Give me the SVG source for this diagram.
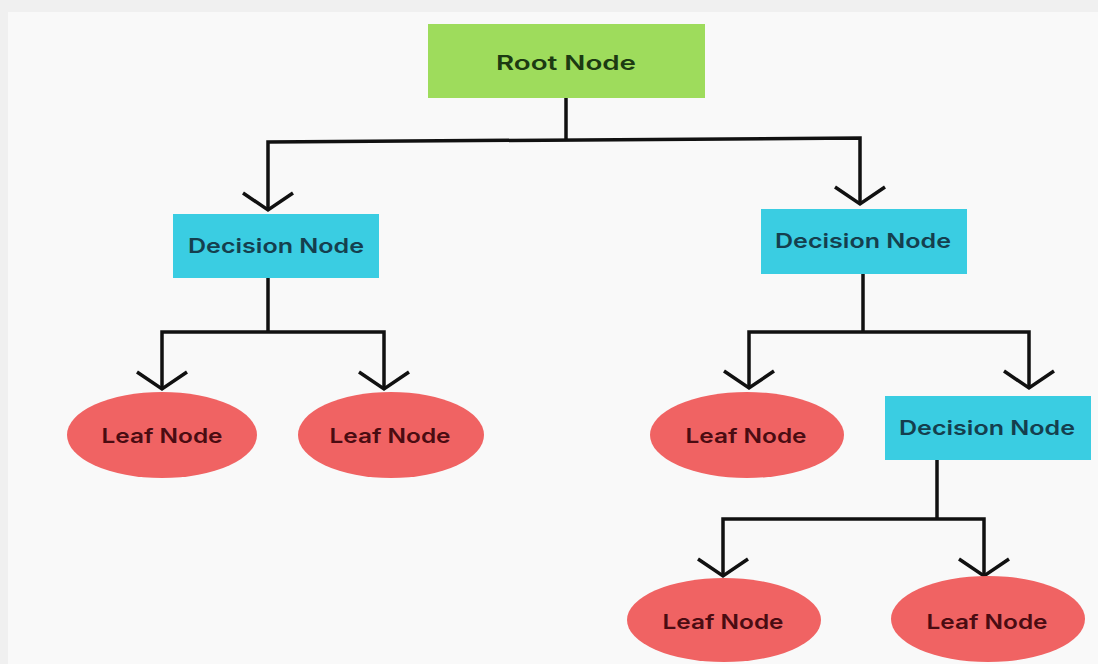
<svg xmlns="http://www.w3.org/2000/svg" width="1098" height="664" viewBox="0 0 1098 664">
  <defs>
    <style>
      .lbl { font-family: "Inter", "Noto Sans", "Liberation Sans", sans-serif; font-weight: 600; font-size: 20px; text-anchor: middle; }
      .root { fill: #9edc5c; }
      .dec { fill: #3acde2; }
      .leaf { fill: #f06363; }
      .root-t { fill: #1c3a12; }
      .dec-t { fill: #153f4e; }
      .leaf-t { fill: #4a0c12; }
      .wire { fill: none; stroke: #111; stroke-width: 3.5; stroke-linejoin: miter; }
      .head { fill: none; stroke: #111; stroke-width: 3.5; stroke-linejoin: miter; stroke-linecap: butt; }
    </style>
  </defs>
  <rect x="0" y="0" width="1098" height="664" fill="#f0f0f0"/>
  <rect x="8" y="12" width="1090" height="652" fill="#f9f9f9"/>

  <g id="connectors">
    <polyline class="wire" points="566,98 566,140"/>
    <polyline class="wire" points="268,208 268,142 860,138 860,202"/>
    <polyline class="head" points="243,193 268,210 293,193"/>
    <polyline class="head" points="835,187 860,204 885,187"/>

    <polyline class="wire" points="268,278 268,332"/>
    <polyline class="wire" points="162,387 162,332 384,332 384,387"/>
    <polyline class="head" points="137,372 162,389 187,372"/>
    <polyline class="head" points="359,372 384,389 409,372"/>

    <polyline class="wire" points="863,274 863,332"/>
    <polyline class="wire" points="749,386 749,332 1029,332 1029,386"/>
    <polyline class="head" points="724,371 749,388 774,371"/>
    <polyline class="head" points="1004,371 1029,388 1054,371"/>

    <polyline class="wire" points="937,460 937,519"/>
    <polyline class="wire" points="723,574 723,519 984,519 984,574"/>
    <polyline class="head" points="698,559 723,576 748,559"/>
    <polyline class="head" points="959,559 984,576 1009,559"/>
  </g>

  <g id="root-node">
    <rect class="root" x="428" y="24" width="277" height="74"/>
    <text class="lbl root-t" x="566" y="70" textLength="140" lengthAdjust="spacingAndGlyphs">Root Node</text>
  </g>

  <g id="decision-left">
    <rect class="dec" x="173" y="214" width="206" height="64"/>
    <text class="lbl dec-t" x="276" y="253" textLength="176" lengthAdjust="spacingAndGlyphs">Decision Node</text>
  </g>

  <g id="decision-right">
    <rect class="dec" x="761" y="209" width="206" height="65"/>
    <text class="lbl dec-t" x="863" y="248" textLength="176" lengthAdjust="spacingAndGlyphs">Decision Node</text>
  </g>

  <g id="decision-lower">
    <rect class="dec" x="885" y="396" width="206" height="64"/>
    <text class="lbl dec-t" x="987" y="435" textLength="176" lengthAdjust="spacingAndGlyphs">Decision Node</text>
  </g>

  <g id="leaf-1">
    <ellipse class="leaf" cx="162" cy="435" rx="95" ry="43"/>
    <text class="lbl leaf-t" x="162" y="443" textLength="121" lengthAdjust="spacingAndGlyphs">Leaf Node</text>
  </g>

  <g id="leaf-2">
    <ellipse class="leaf" cx="391" cy="435" rx="93" ry="43"/>
    <text class="lbl leaf-t" x="390" y="443" textLength="121" lengthAdjust="spacingAndGlyphs">Leaf Node</text>
  </g>

  <g id="leaf-3">
    <ellipse class="leaf" cx="747" cy="435" rx="97" ry="43"/>
    <text class="lbl leaf-t" x="746" y="443" textLength="121" lengthAdjust="spacingAndGlyphs">Leaf Node</text>
  </g>

  <g id="leaf-4">
    <ellipse class="leaf" cx="724" cy="620" rx="97" ry="42"/>
    <text class="lbl leaf-t" x="723" y="629" textLength="121" lengthAdjust="spacingAndGlyphs">Leaf Node</text>
  </g>

  <g id="leaf-5">
    <ellipse class="leaf" cx="988" cy="619" rx="97" ry="43"/>
    <text class="lbl leaf-t" x="987" y="629" textLength="121" lengthAdjust="spacingAndGlyphs">Leaf Node</text>
  </g>
</svg>
